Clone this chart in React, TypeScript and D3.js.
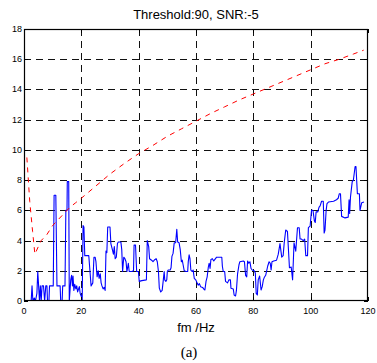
import React from "react";
import * as d3 from "d3";

const W = 377;
const H = 363;

const xTicks = [0, 20, 40, 60, 80, 100, 120];
const yTicks = [0, 2, 4, 6, 8, 10, 12, 14, 16, 18];

// threshold curve (red dashed), [fm, value]
const threshold: [number, number][] = [
  [1, 9.5], [2, 6.6], [3, 4.6], [3.8, 3.1], [5, 3.6], [6, 4.0], [8, 4.4],
  [10, 5.0], [12, 5.4], [14, 5.8], [16, 6.2], [18, 6.5], [20, 6.8],
  [25, 7.6], [30, 8.4], [35, 9.1], [40, 9.75], [45, 10.3], [50, 10.9],
  [55, 11.4], [60, 11.9], [65, 12.4], [70, 12.85], [75, 13.3], [80, 13.7],
  [85, 14.1], [90, 14.5], [95, 14.9], [100, 15.3], [105, 15.7], [110, 16.0],
  [115, 16.35], [118.5, 16.6],
];

// measured statistic (blue), [fm, value]
const measured: [number, number][] = [
  [2.5, 0], [2.8, 1.0], [3.1, 0], [3.6, 0.2], [4.0, 0], [4.5, 0.5], [4.8, 1.95],
  [5.1, 1.0], [5.4, 0], [5.7, 1.0], [6.0, 0], [6.3, 1.0], [6.8, 1.0], [7.2, 0],
  [7.6, 1.0], [8.0, 1.0], [8.2, 0], [8.7, 0], [8.9, 1.0], [10.2, 1.0], [10.5, 7.0],
  [11.1, 7.0], [11.5, 1.0], [12.6, 1.0], [12.8, 0], [13.3, 0], [13.5, 1.0],
  [14.3, 1.0], [14.6, 6.0], [15.0, 6.0], [15.1, 7.9], [15.6, 7.9], [15.8, 0],
  [16.3, 1.4], [16.6, 1.7], [16.9, 1.0], [17.1, 1.65], [17.4, 0.7], [17.7, 1.1],
  [18.1, 0.8], [18.4, 1.0], [18.7, 0.6], [19.3, 0.95], [19.6, 0.5], [20.0, 0.3],
  [20.3, 0], [20.6, 5.0], [20.9, 4.9], [21.2, 3.0], [22.6, 3.0], [23.0, 2.0],
  [23.4, 1.0], [24.0, 1.2], [24.4, 2.9], [24.8, 2.9], [25.1, 2.6], [25.5, 1.6],
  [25.9, 2.0], [26.2, 1.5], [26.6, 1.8], [26.9, 1.2], [27.2, 1.0], [27.6, 0.8],
  [28.0, 0.9], [28.3, 0.7], [28.6, 3.3], [28.9, 3.2], [29.2, 4.9], [30.0, 4.9],
  [30.3, 3.8], [30.7, 3.5], [31.2, 3.1], [31.5, 3.6], [31.8, 2.8], [32.2, 2.9],
  [32.6, 3.8], [32.9, 3.9], [33.8, 3.9], [34.1, 3.4], [34.4, 1.95], [34.8, 2.9],
  [35.2, 2.8], [35.6, 2.6], [35.9, 1.95], [36.4, 2.5], [36.7, 1.95], [37.6, 1.95],
  [38.2, 2.0], [38.4, 3.7], [38.9, 3.7], [39.3, 1.95], [39.9, 1.95], [40.2, 1.3],
  [41.1, 1.35], [42.7, 1.4], [43.0, 4.0], [43.5, 3.6], [43.8, 2.8], [44.5, 2.7],
  [45.0, 2.6], [45.7, 2.75], [46.1, 2.8], [46.5, 2.6], [46.9, 1.95], [47.2, 0.85],
  [47.7, 0.6], [48.2, 0.7], [48.6, 1.4], [48.9, 1.95], [49.1, 1.4], [49.5, 1.3],
  [49.8, 1.4], [50.0, 1.95], [50.3, 2.05], [51.0, 2.05], [51.3, 2.2], [51.6, 2.95],
  [52.0, 3.15], [52.4, 3.85], [52.9, 3.85], [53.3, 4.75], [53.6, 3.9], [54.1, 3.85],
  [54.5, 3.4], [54.9, 2.6], [55.2, 2.7], [55.5, 2.4], [55.9, 2.0], [56.5, 1.95],
  [57.1, 1.95], [57.3, 2.6], [57.6, 3.05], [57.9, 2.8], [58.2, 2.05], [58.7, 1.95],
  [59.0, 2.05], [59.4, 1.5], [59.9, 1.4], [60.5, 1.15], [60.8, 1.05], [61.2, 1.15],
  [61.6, 0.95], [62.3, 0.9], [62.8, 0.77], [63.1, 0.73], [63.5, 1.3], [63.9, 1.6],
  [64.3, 2.25], [64.6, 2.5], [64.9, 2.15], [65.2, 2.75], [65.7, 2.8], [66.2, 2.65],
  [66.6, 2.75], [67.2, 2.9], [68.0, 2.9], [69.0, 2.9], [69.2, 2.3], [69.5, 1.95],
  [70.0, 1.95], [70.3, 1.3], [71.0, 1.2], [71.5, 1.4], [72.0, 1.4], [72.2, 0.85],
  [73.0, 0.8], [73.3, 0.4], [73.8, 0.33], [74.1, 0.7], [74.5, 1.8], [75.0, 2.4],
  [75.3, 2.6], [76.5, 2.65], [76.9, 2.6], [77.3, 1.7], [77.7, 1.6], [78.0, 2.65],
  [78.4, 2.5], [78.8, 2.6], [79.2, 2.15], [79.6, 2.05], [80.3, 2.0], [80.7, 1.85],
  [81.0, 0.5], [81.4, 0.4], [81.7, 1.4], [82.2, 1.65], [82.7, 0.73], [83.1, 0.95],
  [83.5, 1.4], [83.8, 1.55], [84.3, 1.7], [84.6, 1.95], [85.0, 2.3], [85.5, 2.6],
  [85.9, 2.5], [86.2, 2.05], [86.5, 2.6], [87.1, 2.65], [88.1, 2.7], [88.7, 3.1],
  [89.3, 3.8], [89.9, 2.9], [90.4, 3.0], [90.8, 3.9], [91.3, 4.7], [91.9, 4.6],
  [92.6, 2.2], [93.2, 2.25], [93.7, 1.4], [94.2, 3.85], [94.8, 3.3], [95.4, 4.85],
  [96.0, 4.85], [96.3, 4.1], [96.8, 4.1], [97.4, 4.0], [97.9, 4.1], [98.3, 3.0],
  [98.9, 3.0], [99.2, 4.85], [99.8, 4.95], [100.3, 6.0], [100.8, 6.0], [101.3, 5.3],
  [101.6, 5.2], [101.9, 5.9], [102.5, 5.9], [102.9, 6.2], [103.3, 6.3], [103.8, 6.6],
  [104.4, 6.6], [104.7, 4.5], [105.0, 4.7], [105.4, 6.0], [105.7, 6.45], [106.2, 6.55],
  [108.0, 6.6], [109.0, 6.7], [109.6, 6.8], [110.0, 7.1], [110.4, 7.1], [110.8, 5.6],
  [112.0, 5.5], [113.1, 5.55], [113.4, 6.7], [113.6, 5.8], [113.9, 6.9], [114.5, 7.9],
  [114.9, 8.0], [115.5, 8.9], [115.8, 8.9], [116.3, 7.1], [117.0, 7.1], [117.2, 6.0],
  [117.8, 6.5], [118.6, 6.55],
];

const m = { left: 24, right: 368, top: 29, bottom: 301 };

export default function App() {
  const x = d3.scaleLinear().domain([0, 120]).range([m.left, m.right]);
  const y = d3.scaleLinear().domain([0, 18]).range([m.bottom, m.top]);

  const line = d3
    .line<[number, number]>()
    .x((d) => x(d[0]))
    .y((d) => y(d[1]));

  const font = "Arial, 'Liberation Sans', sans-serif";

  return (
    <svg
      width={W}
      height={H}
      style={{ position: "absolute", left: 0, top: 0, background: "#fff" }}
    >
      <defs>
        <clipPath id="plot">
          <rect x={m.left} y={m.top} width={m.right - m.left} height={m.bottom - m.top} />
        </clipPath>
      </defs>

      {/* grid */}
      <g stroke="#111" strokeWidth={1} strokeDasharray="7,5">
        {xTicks.slice(1, -1).map((t) => (
          <line key={"gx" + t} x1={Math.round(x(t)) + 0.5} x2={Math.round(x(t)) + 0.5} y1={m.top} y2={m.bottom} />
        ))}
        {yTicks.slice(1, -1).map((t) => (
          <line key={"gy" + t} x1={m.left} x2={m.right} y1={Math.round(y(t)) + 0.5} y2={Math.round(y(t)) + 0.5} />
        ))}
      </g>

      <g clipPath="url(#plot)">
        <path d={line(measured) || ""} fill="none" stroke="#0000ff" strokeWidth={1.1} strokeLinejoin="round" />
        <path d={line(threshold) || ""} fill="none" stroke="#ff0000" strokeWidth={1} strokeDasharray="5,5" />
      </g>

      {/* frame and ticks */}
      <rect
        x={m.left + 0.5}
        y={m.top + 0.5}
        width={m.right - m.left - 1}
        height={m.bottom - m.top - 1}
        fill="none"
        stroke="#000"
        strokeWidth={1.2}
      />
      <g stroke="#000" strokeWidth={1}>
        {xTicks.map((t) => (
          <g key={"tx" + t}>
            <line x1={Math.round(x(t)) + 0.5} x2={Math.round(x(t)) + 0.5} y1={m.bottom} y2={m.bottom - 4} />
            <line x1={Math.round(x(t)) + 0.5} x2={Math.round(x(t)) + 0.5} y1={m.top} y2={m.top + 4} />
          </g>
        ))}
        {yTicks.map((t) => (
          <g key={"ty" + t}>
            <line x1={m.left} x2={m.left + 4} y1={Math.round(y(t)) + 0.5} y2={Math.round(y(t)) + 0.5} />
            <line x1={m.right} x2={m.right - 4} y1={Math.round(y(t)) + 0.5} y2={Math.round(y(t)) + 0.5} />
          </g>
        ))}
      </g>

      {/* tick labels */}
      <g fontFamily={font} fontSize={9} fill="#000">
        {xTicks.map((t) => (
          <text key={"lx" + t} x={x(t)} y={m.bottom + 13} textAnchor="middle">
            {t}
          </text>
        ))}
        {yTicks.map((t) => (
          <text key={"ly" + t} x={m.left - 2} y={y(t) + 3} textAnchor="end">
            {t}
          </text>
        ))}
      </g>

      <text x={(m.left + m.right) / 2} y={19} textAnchor="middle" fontFamily={font} fontSize={13}>
        Threshold:90, SNR:-5
      </text>
      <text x={(m.left + m.right) / 2} y={332} textAnchor="middle" fontFamily={font} fontSize={13}>
        fm /Hz
      </text>
      <text x={189} y={357} textAnchor="middle" fontFamily="'Times New Roman', 'Liberation Serif', serif" fontSize={15}>
        (a)
      </text>
    </svg>
  );
}
